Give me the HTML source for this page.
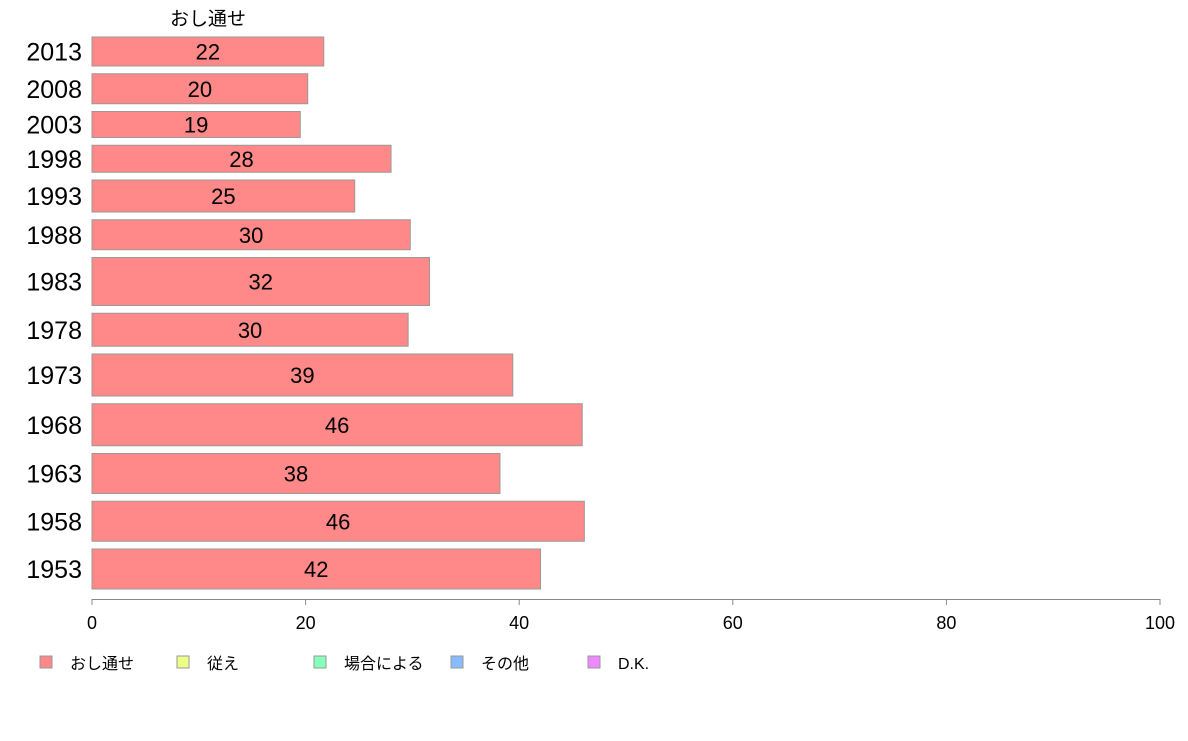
<!DOCTYPE html>
<html><head><meta charset="utf-8">
<style>
body{margin:0;background:#fff;width:1188px;height:736px;overflow:hidden;font-family:"Liberation Sans","Noto Sans CJK JP",sans-serif;}
</style></head>
<body>
<svg id="chart" width="1188" height="736" xmlns="http://www.w3.org/2000/svg" font-family="Liberation Sans, Noto Sans CJK JP, sans-serif">
<text x="208" y="25" font-size="19" text-anchor="middle" fill="#000">おし通せ</text>
<g id="bars"></g>
<g id="axis"></g>
<g id="legend"></g>
</svg>
<script>
const years = ["2013","2008","2003","1998","1993","1988","1983","1978","1973","1968","1963","1958","1953"];
const values = [21.7,20.2,19.5,28.0,24.6,29.8,31.6,29.6,39.4,45.9,38.2,46.1,42.0];
const labels = ["22","20","19","28","25","30","32","30","39","46","38","46","42"];
const weights = [29,30,26,27,32,30,48,33,42,42,40,40,40];
const ticks = [0,20,40,60,80,100];
const legendNames = ["おし通せ","従え","場合による","その他","D.K."];
const legendColors = ["#ff8888","#eeff88","#88ffbb","#88bbff","#ee88ff"];

const NS="http://www.w3.org/2000/svg";
const x0=92,x1=1160,yTop=37,yBot=589,gap=7.75;
const xs=v=>x0+(x1-x0)*v/100;
const totalW=weights.reduce((a,b)=>a+b,0);
const scaleH=(yBot-yTop-gap*(weights.length-1))/totalW;
function mk(tag,attrs,parent){const e=document.createElementNS(NS,tag);for(const k in attrs)e.setAttribute(k,attrs[k]);parent.appendChild(e);return e;}
const bars=document.getElementById('bars');
let y=yTop;
years.forEach((yr,i)=>{
  const h=weights[i]*scaleH;
  const r=mk('rect',{x:x0,y:y,width:xs(values[i])-x0,height:h,fill:'#ff8888',stroke:'#999','stroke-width':1},bars);
  
  
  const t=mk('text',{x:(x0+xs(values[i]))/2,y:y+h/2+8,'font-size':22,'text-anchor':'middle',fill:'#000'},bars);
  t.textContent=labels[i];
  
  
  const l=mk('text',{x:82,y:y+h/2+9,'font-size':25,'text-anchor':'end',fill:'#000'},bars);
  l.textContent=yr;
  
  
  y+=h+gap;
});
const ax=document.getElementById('axis');
mk('line',{x1:x0,x2:x1,y1:599.5,y2:599.5,stroke:'#888','stroke-width':1},ax);
ticks.forEach(t=>{
  mk('line',{x1:xs(t),x2:xs(t),y1:599,y2:605,stroke:'#888'},ax);
  const tx=mk('text',{x:xs(t),y:629,'font-size':18,'text-anchor':'middle',fill:'#000'},ax);
  tx.textContent=t;
  
  
});
const lg=document.getElementById('legend');
const lx=[40,177,314,451,588];
legendNames.forEach((n,i)=>{
  const r=mk('rect',{x:lx[i],y:656,width:12,height:12,fill:legendColors[i],stroke:'#999'},lg);
  
  
  const t=mk('text',{x:lx[i]+30,y:669,'font-size':16,fill:'#000'},lg);
  t.textContent=n;
  
  
});
</script>
</body></html>
